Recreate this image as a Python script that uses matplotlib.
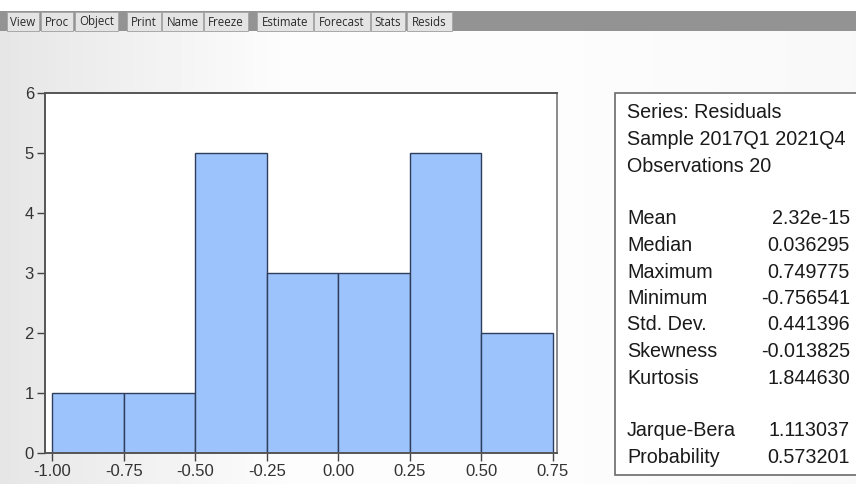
import numpy as np
import matplotlib
matplotlib.use("Agg")
import matplotlib.pyplot as plt
from matplotlib.patches import Rectangle

plt.rcParams['font.family'] = ['Liberation Sans', 'DejaVu Sans']

# данные гистограммы остатков
bin_edges = [-1.00, -0.75, -0.50, -0.25, 0.00, 0.25, 0.50, 0.75]
counts = [1, 1, 5, 3, 3, 5, 2]
x_ticks = [-1.00, -0.75, -0.50, -0.25, 0.00, 0.25, 0.50, 0.75]
y_ticks = [0, 1, 2, 3, 4, 5, 6]

# таблица статистик
header_lines = ["Series: Residuals", "Sample 2017Q1 2021Q4", "Observations 20"]
stat_names = ["Mean", "Median", "Maximum", "Minimum", "Std. Dev.", "Skewness", "Kurtosis"]
stat_values = ["2.32e-15", "0.036295", "0.749775", "-0.756541", "0.441396", "-0.013825", "1.844630"]
test_names = ["Jarque-Bera", "Probability"]
test_values = ["1.113037", "0.573201"]

toolbar_buttons = ["View", "Proc", "Object", "Print", "Name", "Freeze",
                   "Estimate", "Forecast", "Stats", "Resids"]
button_left = [7, 41, 75, 127, 162, 204, 257, 314, 371, 407]
button_right = [39, 73, 118, 161, 203, 248, 313, 370, 405, 452]

W, H = 856, 484
fig = plt.figure(figsize=(W / 100, H / 100), dpi=100)
fig.patch.set_facecolor('#f1f1f1')

# фон с лёгким градиентом
bg = fig.add_axes([0, 0, 1, 1], zorder=-10)
grad = np.linspace(0, 1, 256)
g = 0.90 + 0.09 * np.minimum(grad * 3, 1) - 0.05 * np.maximum(grad - 0.65, 0)
bg.imshow(np.tile(g, (2, 1)), cmap='gray', vmin=0, vmax=1, aspect='auto',
          extent=[0, 1, 0, 1])
bg.set_axis_off()

def fx(px):
    return px / W

def fy(py):
    return 1 - py / H

# панель инструментов
fig.add_artist(Rectangle((0, fy(31)), 1, fy(11) - fy(31), transform=fig.transFigure,
                         facecolor='#939393', edgecolor='none'))
fig.add_artist(Rectangle((0, fy(11)), 1, fy(0) - fy(11), transform=fig.transFigure,
                         facecolor='white', edgecolor='none'))
for name, l, r in zip(toolbar_buttons, button_left, button_right):
    fig.add_artist(Rectangle((fx(l), fy(31)), fx(r - l), fy(12) - fy(31),
                             transform=fig.transFigure, facecolor='#e4e4e4',
                             edgecolor='#a8a8a8', linewidth=0.7))
    fig.text(fx((l + r) / 2), fy(22), name, ha='center', va='center',
             fontsize=8.3, color='#2a2a2a', family=['Open Sans', 'DejaVu Sans'])

# гистограмма
ax = fig.add_axes([fx(45), fy(453), fx(557 - 45), fy(93) - fy(453)])
ax.set_facecolor('white')
ax.bar(bin_edges[:-1], counts, width=np.diff(bin_edges), align='edge',
       color='#9cc3fb', edgecolor='#2e3d5c', linewidth=1.0)
ax.set_xlim(-1.025, 0.764)
ax.set_ylim(0, 6)
ax.set_xticks(x_ticks)
ax.set_xticklabels([f"{t:.2f}" for t in x_ticks])
ax.set_yticks(y_ticks)
ax.tick_params(direction='out', length=6, width=1, colors='#444444',
               labelcolor='#333333', labelsize=12, pad=2)
for s in ax.spines.values():
    s.set_color('#555555')
    s.set_linewidth(1.4)
ax.spines['right'].set_color('#8a8a8a')

# рамка со статистиками
fig.add_artist(Rectangle((fx(615), fy(475)), fx(260), fy(93) - fy(475),
                         transform=fig.transFigure, facecolor='white',
                         edgecolor='#6a6a6a', linewidth=1.2))
fs = 14.2
step = 26.5
lx, rx = fx(627), fx(850)
rows = header_lines + [""] + stat_names + [""] + test_names
vals = ["", "", "", ""] + stat_values + [""] + test_values
for i, (n, v) in enumerate(zip(rows, vals)):
    y = fy(113 + step * i)
    fig.text(lx, y, n, fontsize=fs, va='center', color='#1a1a1a')
    fig.text(rx, y, v, fontsize=fs, va='center', ha='right', color='#1a1a1a')

fig.savefig('out.png', dpi=100)
